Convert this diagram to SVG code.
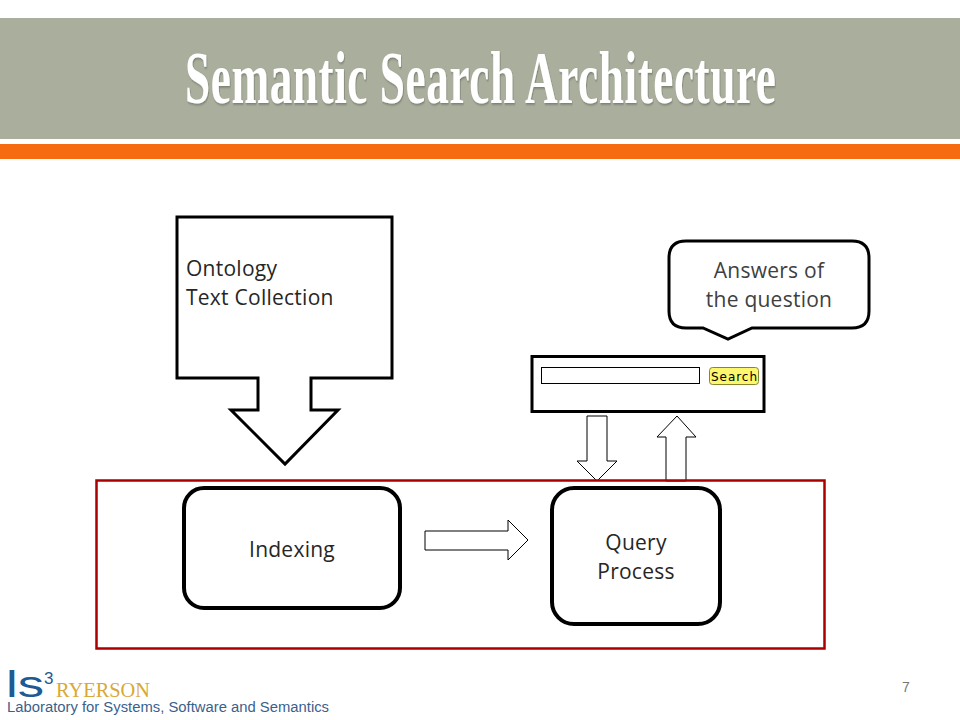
<svg xmlns="http://www.w3.org/2000/svg" width="960" height="720" viewBox="0 0 960 720">
<defs>
<filter id="sh" x="-5%" y="-20%" width="110%" height="140%"><feDropShadow dx="1" dy="1.500" stdDeviation="1.200" flood-color="#000" flood-opacity="0.3"/></filter>
</defs>
<style>
text{font-family:"Liberation Sans",Arial,sans-serif}
.lbl{font-family:"Open Sans","Noto Sans",sans-serif;font-size:21px;fill:#262626;letter-spacing:.25px}
.c{text-anchor:middle}
.box{fill:#fff;stroke:#000;stroke-width:3;stroke-linejoin:miter}
.thin{fill:#fff;stroke:#000;stroke-width:1}
</style>
<rect width="960" height="720" fill="#fff"/>
<g id="header">
<rect x="0" y="18" width="960" height="121" fill="#a9af9c"/>
<rect x="0" y="144" width="960" height="15" fill="#f66a10"/>
<text transform="translate(185 103) scale(.62 1)" x="0" y="0" font-size="73" font-weight="bold" textLength="953" lengthAdjust="spacing" fill="#fff" filter="url(#sh)" style="font-family:'Liberation Serif',serif">Semantic Search Architecture</text>
</g>
<g id="connectors">
<path class="thin" d="M587 416H607V461H617L597 481L577 461H587Z"/>
<path class="thin" d="M666 481V437H657L677 416L696 437H686V481Z"/>
<path class="thin" d="M425 531H508V520L528 540L508 560V550H425Z"/>
</g>
<g id="ontology">
<path class="box" d="M177 217H392V378H311V410H338L285 464L231 410H258V378H177Z"/>
<text class="lbl" x="186" y="276">Ontology</text>
<text class="lbl" x="186" y="305">Text Collection</text>
</g>
<g id="answers">
<path class="box" d="M686 241H852Q869 241 869 258V311Q869 328 852 328H752L728 339L703 328H686Q669 328 669 311V258Q669 241 686 241Z"/>
<text class="lbl c" x="769" y="278" style="fill:#404040">Answers of</text>
<text class="lbl c" x="769" y="307" style="fill:#404040">the question</text>
</g>
<g id="searchbox">
<rect x="532" y="356.500" width="232" height="55" fill="#fff" stroke="#000" stroke-width="3"/>
<rect x="541.500" y="367.500" width="158" height="16" class="thin"/>
<rect x="709.500" y="367.500" width="49" height="17" rx="3" fill="#fdf76e" stroke="#8a8530" stroke-width="1"/>
<text x="734" y="380.500" font-size="12" class="c" fill="#000" textLength="46" style="font-family:'DejaVu Sans',sans-serif">Search</text>
</g>
<g id="frame">
<rect x="96.500" y="480.500" width="728" height="168" fill="none" stroke="#aa0000" stroke-width="2.500"/>
</g>
<g id="indexing">
<rect x="184" y="488" width="216" height="120" rx="20" fill="#fff" stroke="#000" stroke-width="4"/>
<text class="lbl c" x="292" y="557">Indexing</text>
</g>
<g id="query">
<rect x="552" y="488" width="168" height="136" rx="22" fill="#fff" stroke="#000" stroke-width="4"/>
<text class="lbl c" x="636" y="550">Query</text>
<text class="lbl c" x="636" y="579">Process</text>
</g>
<g id="footer">
<text x="6" y="697" font-size="36" fill="#1f5a94" textLength="38" lengthAdjust="spacingAndGlyphs">ls</text>
<text x="44" y="684" font-size="17" fill="#1f5a94">3</text>
<text x="56" y="697" font-size="20" fill="#d9a934" textLength="94" lengthAdjust="spacingAndGlyphs" style="font-family:'Liberation Serif',serif">RYERSON</text>
<text x="7" y="712" font-size="14" fill="#3c5f8c" textLength="322" lengthAdjust="spacingAndGlyphs">Laboratory for Systems, Software and Semantics</text>
<text x="902" y="692" font-size="14" fill="#777">7</text>
</g>
</svg>
